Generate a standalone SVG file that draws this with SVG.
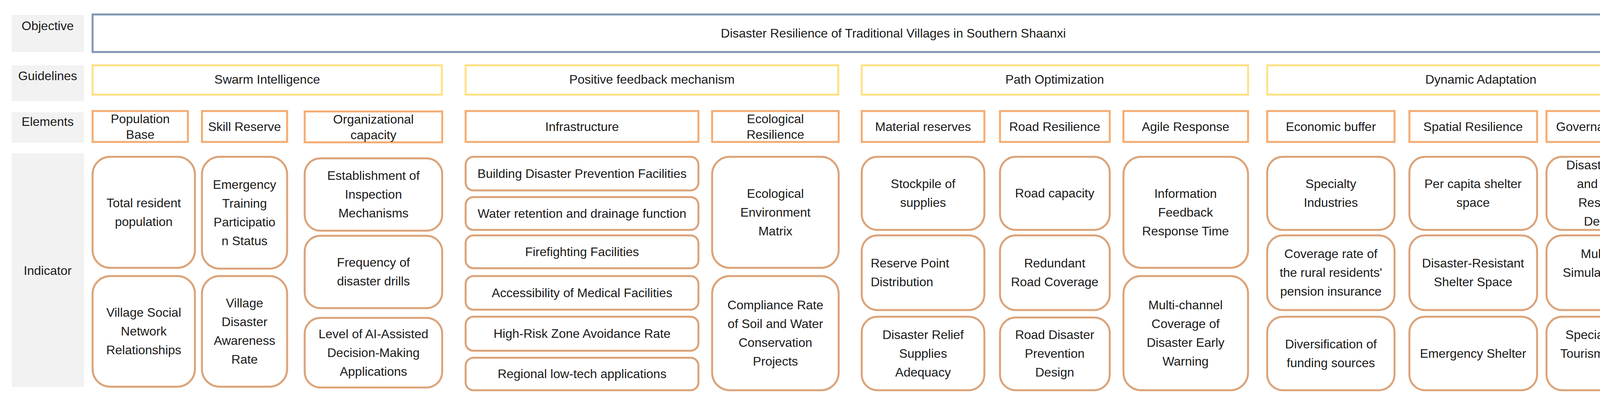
<svg xmlns="http://www.w3.org/2000/svg" width="4373" height="1023" viewBox="0 0 4373 1023">
<style>
text{font-family:"Liberation Sans",Arial,sans-serif;font-size:32px;fill:#1a1a1a;text-anchor:middle}
.lab{fill:#f2f2f2}
.obj{fill:#fff;stroke:#8196b4;stroke-width:5}
.gl{fill:#fff;stroke:#ffe183;stroke-width:5}
.el{fill:#fff;stroke:#f4ac72;stroke-width:5}
.ind{fill:#fff;stroke:#dba379;stroke-width:5}
</style>
<g id="labels">
<rect class="lab" x="30" y="38" width="185" height="95"/><text x="122" y="77">Objective</text>
<rect class="lab" x="30" y="167" width="185" height="92"/><text x="122" y="205">Guidelines</text>
<rect class="lab" x="30" y="287" width="185" height="78"/><text x="122" y="322">Elements</text>
<rect class="lab" x="30" y="392" width="185" height="598"/><text x="122" y="703">Indicator</text>
</g>
<g id="objective"><rect class="obj" x="237" y="37" width="4101" height="96"/><text x="2287" y="96">Disaster Resilience of Traditional Villages in Southern Shaanxi</text></g>
<g id="guidelines">
<rect class="gl" x="237" y="167" width="894" height="75"/><text x="684" y="214">Swarm Intelligence</text>
<rect class="gl" x="1192" y="167" width="954" height="75"/><text x="1669" y="214">Positive feedback mechanism</text>
<rect class="gl" x="2206" y="167" width="989" height="75"/><text x="2700" y="214">Path Optimization</text>
<rect class="gl" x="3244" y="167" width="1094" height="75"/><text x="3791" y="214">Dynamic Adaptation</text>
</g>
<g id="elements">
<rect class="el" x="237" y="284" width="244" height="79"/><text x="359" y="315">Population</text><text x="359" y="355">Base</text>
<rect class="el" x="517" y="284" width="218" height="79"/><text x="626" y="335">Skill Reserve</text>
<rect class="el" x="780" y="285" width="352" height="79"/><text x="956" y="316">Organizational</text><text x="956" y="356">capacity</text>
<rect class="el" x="1192" y="284" width="596" height="79"/><text x="1490" y="335">Infrastructure</text>
<rect class="el" x="1823" y="284" width="324" height="79"/><text x="1985" y="315">Ecological</text><text x="1985" y="355">Resilience</text>
<rect class="el" x="2206" y="284" width="314" height="79"/><text x="2363" y="335">Material reserves</text>
<rect class="el" x="2560" y="284" width="281" height="79"/><text x="2700" y="335">Road Resilience</text>
<rect class="el" x="2876" y="284" width="319" height="79"/><text x="3035" y="335">Agile Response</text>
<rect class="el" x="3244" y="284" width="326" height="79"/><text x="3407" y="335">Economic buffer</text>
<rect class="el" x="3608" y="284" width="327" height="79"/><text x="3771" y="335">Spatial Resilience</text>
<rect class="el" x="3959" y="284" width="380" height="79"/><text x="4149" y="335">Governance Resilience</text>
</g>
<g id="indicators">
<rect class="ind" x="237" y="401" width="262" height="284" rx="45"/><text x="368" y="530">Total resident<tspan x="368" dy="48">population</tspan></text>
<rect class="ind" x="237" y="706" width="262" height="283" rx="45"/><text x="368" y="810">Village Social<tspan x="368" dy="48">Network</tspan><tspan x="368" dy="48">Relationships</tspan></text>
<rect class="ind" x="517" y="401" width="218" height="286" rx="45"/><text x="626" y="483">Emergency<tspan x="626" dy="48">Training</tspan><tspan x="626" dy="48">Participatio</tspan><tspan x="626" dy="48">n Status</tspan></text>
<rect class="ind" x="517" y="706" width="218" height="283" rx="45"/><text x="626" y="786">Village<tspan x="626" dy="48">Disaster</tspan><tspan x="626" dy="48">Awareness</tspan><tspan x="626" dy="48">Rate</tspan></text>
<rect class="ind" x="780" y="405" width="352" height="185" rx="40"/><text x="956" y="460">Establishment of<tspan x="956" dy="48">Inspection</tspan><tspan x="956" dy="48">Mechanisms</tspan></text>
<rect class="ind" x="780" y="603" width="352" height="185" rx="40"/><text x="956" y="682">Frequency of<tspan x="956" dy="48">disaster drills</tspan></text>
<rect class="ind" x="780" y="813" width="352" height="178" rx="40"/><text x="956" y="865">Level of AI-Assisted<tspan x="956" dy="48">Decision-Making</tspan><tspan x="956" dy="48">Applications</tspan></text>
<rect class="ind" x="1192" y="401" width="596" height="86" rx="20"/><text x="1490" y="455">Building Disaster Prevention Facilities</text>
<rect class="ind" x="1192" y="504" width="596" height="84" rx="20"/><text x="1490" y="557">Water retention and drainage function</text>
<rect class="ind" x="1192" y="602" width="596" height="84" rx="20"/><text x="1490" y="655">Firefighting Facilities</text>
<rect class="ind" x="1192" y="706" width="596" height="86" rx="20"/><text x="1490" y="760">Accessibility of Medical Facilities</text>
<rect class="ind" x="1192" y="810" width="596" height="87" rx="20"/><text x="1490" y="864">High-Risk Zone Avoidance Rate</text>
<rect class="ind" x="1192" y="915" width="596" height="83" rx="20"/><text x="1490" y="967">Regional low-tech applications</text>
<rect class="ind" x="1823" y="401" width="324" height="284" rx="45"/><text x="1985" y="506">Ecological<tspan x="1985" dy="48">Environment</tspan><tspan x="1985" dy="48">Matrix</tspan></text>
<rect class="ind" x="1823" y="706" width="324" height="292" rx="45"/><text x="1985" y="791">Compliance Rate<tspan x="1985" dy="48">of Soil and Water</tspan><tspan x="1985" dy="48">Conservation</tspan><tspan x="1985" dy="48">Projects</tspan></text>
<rect class="ind" x="2206" y="401" width="314" height="187" rx="40"/><text x="2363" y="481">Stockpile of<tspan x="2363" dy="48">supplies</tspan></text>
<rect class="ind" x="2206" y="602" width="314" height="191" rx="40"/><text x="2229" y="684" style="text-anchor:start">Reserve Point<tspan x="2229" dy="48">Distribution</tspan></text>
<rect class="ind" x="2206" y="810" width="314" height="188" rx="40"/><text x="2363" y="867">Disaster Relief<tspan x="2363" dy="48">Supplies</tspan><tspan x="2363" dy="48">Adequacy</tspan></text>
<rect class="ind" x="2560" y="401" width="281" height="187" rx="40"/><text x="2700" y="505">Road capacity</text>
<rect class="ind" x="2560" y="602" width="281" height="191" rx="40"/><text x="2700" y="684">Redundant<tspan x="2700" dy="48">Road Coverage</tspan></text>
<rect class="ind" x="2560" y="812" width="281" height="186" rx="40"/><text x="2700" y="867">Road Disaster<tspan x="2700" dy="48">Prevention</tspan><tspan x="2700" dy="48">Design</tspan></text>
<rect class="ind" x="2876" y="401" width="319" height="284" rx="45"/><text x="3035" y="506">Information<tspan x="3035" dy="48">Feedback</tspan><tspan x="3035" dy="48">Response Time</tspan></text>
<rect class="ind" x="2876" y="706" width="319" height="292" rx="45"/><text x="3035" y="791">Multi-channel<tspan x="3035" dy="48">Coverage of</tspan><tspan x="3035" dy="48">Disaster Early</tspan><tspan x="3035" dy="48">Warning</tspan></text>
<rect class="ind" x="3244" y="401" width="326" height="187" rx="40"/><text x="3407" y="481">Specialty<tspan x="3407" dy="48">Industries</tspan></text>
<rect class="ind" x="3244" y="602" width="326" height="191" rx="40"/><text x="3407" y="660">Coverage rate of<tspan x="3407" dy="48">the rural residents'</tspan><tspan x="3407" dy="48">pension insurance</tspan></text>
<rect class="ind" x="3244" y="810" width="326" height="188" rx="40"/><text x="3407" y="891">Diversification of<tspan x="3407" dy="48">funding sources</tspan></text>
<rect class="ind" x="3608" y="401" width="327" height="187" rx="40"/><text x="3771" y="481">Per capita shelter<tspan x="3771" dy="48">space</tspan></text>
<rect class="ind" x="3608" y="602" width="327" height="191" rx="40"/><text x="3771" y="684">Disaster-Resistant<tspan x="3771" dy="48">Shelter Space</tspan></text>
<rect class="ind" x="3608" y="810" width="327" height="188" rx="40"/><text x="3771" y="915">Emergency Shelter</text>
<rect class="ind" x="3959" y="401" width="380" height="187" rx="40"/><text x="4149" y="433">Disaster Prevention<tspan x="4149" dy="48">and Emergency</tspan><tspan x="4149" dy="48">Response Plan</tspan><tspan x="4149" dy="48">Development</tspan></text>
<rect class="ind" x="3959" y="602" width="380" height="191" rx="40"/><text x="4149" y="660">Multi-Scenario<tspan x="4149" dy="48">Simulation Coverage</tspan><tspan x="4149" dy="48">Rate</tspan></text>
<rect class="ind" x="3959" y="810" width="380" height="188" rx="40"/><text x="4149" y="867">Specialized Cultural<tspan x="4149" dy="48">Tourism Development</tspan><tspan x="4149" dy="48">Plan</tspan></text>
</g>
<g id="connectors"/>
</svg>
